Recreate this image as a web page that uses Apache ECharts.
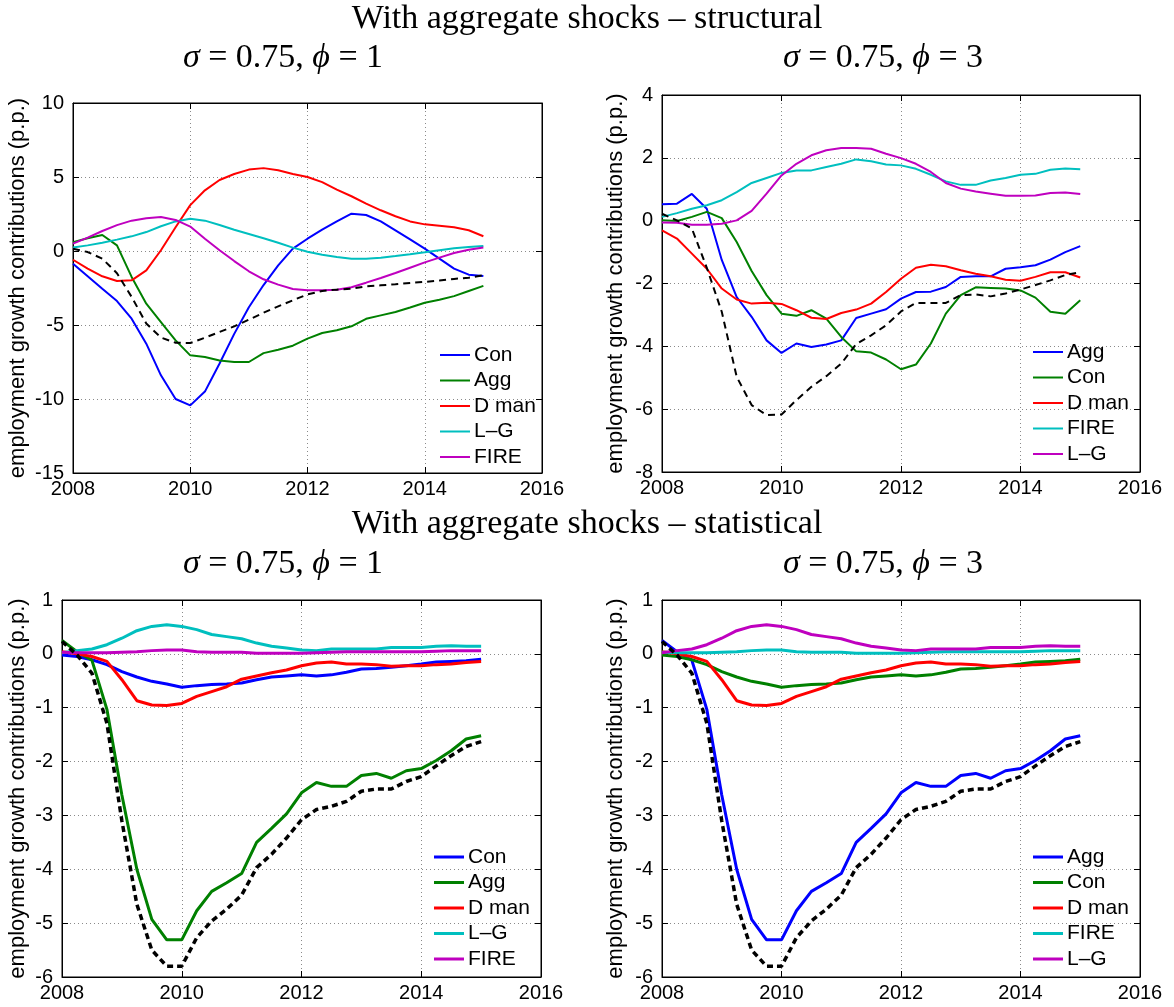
<!DOCTYPE html>
<html>
<head>
<meta charset="utf-8">
<script src="https://cdn.jsdelivr.net/npm/echarts@6/dist/echarts.min.js"></script>
<style>
  html, body { margin: 0; padding: 0; background: #fff; }
  #page { position: relative; width: 1174px; height: 1007px; overflow: hidden; }
  .layer { position: absolute; left: 0; top: 0; width: 1174px; height: 1007px; }
</style>
</head>
<body>
<div id="page">
  <div class="layer" id="structPhi1"></div>
  <div class="layer" id="structPhi3"></div>
  <div class="layer" id="statPhi1"></div>
  <div class="layer" id="statPhi3"></div>
</div>
<script>
// Quarterly observation dates
const quarters = [2008, 2008.25, 2008.5, 2008.75, 2009, 2009.25, 2009.5, 2009.75,
  2010, 2010.25, 2010.5, 2010.75, 2011, 2011.25, 2011.5, 2011.75,
  2012, 2012.25, 2012.5, 2012.75, 2013, 2013.25, 2013.5, 2013.75,
  2014, 2014.25, 2014.5, 2014.75, 2015];

const yearTicks = [2008, 2010, 2012, 2014, 2016];

// Structural decomposition, sigma = 0.75, phi = 1
const conS1 = [-0.86, -1.7, -2.55, -3.38, -4.57, -6.26, -8.4, -10.0,
  -10.43, -9.5, -7.6, -5.6, -3.8, -2.3, -0.97, 0.16,
  0.83, 1.44, 2.0, 2.52, 2.43, 2.0, 1.4, 0.79,
  0.16, -0.52, -1.19, -1.6, -1.69];
const aggS1 = [0.6, 0.86, 1.08, 0.38, -1.75, -3.56, -4.8, -6.04,
  -7.05, -7.16, -7.4, -7.5, -7.5, -6.9, -6.67, -6.4,
  -5.92, -5.54, -5.36, -5.09, -4.58, -4.35, -4.12, -3.82,
  -3.5, -3.3, -3.05, -2.7, -2.36];
const dmanS1 = [-0.59, -1.19, -1.71, -2.03, -1.98, -1.31, 0.05, 1.6,
  3.1, 4.1, 4.8, 5.2, 5.5, 5.6, 5.45, 5.2,
  5.0, 4.65, 4.15, 3.7, 3.2, 2.75, 2.35, 2.0,
  1.8, 1.7, 1.6, 1.4, 1.0];
const lgS1 = [0.23, 0.38, 0.56, 0.77, 0.99, 1.28, 1.67, 2.0,
  2.18, 2.05, 1.76, 1.44, 1.15, 0.86, 0.56, 0.23,
  -0.05, -0.25, -0.4, -0.52, -0.52, -0.45, -0.34, -0.22,
  -0.09, 0.05, 0.18, 0.27, 0.34];
const fireS1 = [0.5, 0.9, 1.35, 1.75, 2.05, 2.22, 2.3, 2.1,
  1.65, 0.83, 0.05, -0.68, -1.37, -1.91, -2.27, -2.57,
  -2.66, -2.66, -2.62, -2.45, -2.14, -1.82, -1.49, -1.13,
  -0.77, -0.45, -0.14, 0.09, 0.23];
const totalS1 = [0.15, -0.07, -0.52, -1.5, -3.1, -4.9, -5.85, -6.2,
  -6.22, -5.86, -5.47, -5.09, -4.64, -4.17, -3.74, -3.33,
  -2.93, -2.7, -2.61, -2.55, -2.39, -2.32, -2.25, -2.16,
  -2.09, -2.0, -1.89, -1.8, -1.64];

// Structural decomposition, sigma = 0.75, phi = 3
const aggS3 = [0.52, 0.54, 0.85, 0.38, -1.25, -2.43, -3.06, -3.81,
  -4.21, -3.91, -4.02, -3.94, -3.81, -3.1, -2.96, -2.82,
  -2.48, -2.27, -2.26, -2.11, -1.79, -1.77, -1.77, -1.53,
  -1.48, -1.42, -1.24, -1.0, -0.81];
const conS3 = [0.01, -0.01, 0.12, 0.28, 0.08, -0.68, -1.6, -2.37,
  -2.96, -3.03, -2.85, -3.12, -3.7, -4.16, -4.2, -4.42,
  -4.73, -4.58, -3.91, -2.96, -2.37, -2.12, -2.14, -2.16,
  -2.22, -2.45, -2.9, -2.96, -2.53];
const dmanS3 = [-0.31, -0.57, -1.05, -1.53, -2.16, -2.51, -2.64, -2.61,
  -2.65, -2.85, -3.09, -3.13, -2.94, -2.83, -2.64, -2.27,
  -1.85, -1.5, -1.4, -1.45, -1.58, -1.69, -1.77, -1.88,
  -1.91, -1.79, -1.64, -1.64, -1.81];
const fireS3 = [0.12, 0.24, 0.38, 0.49, 0.65, 0.91, 1.2, 1.36,
  1.52, 1.6, 1.6, 1.71, 1.81, 1.95, 1.89, 1.79,
  1.76, 1.65, 1.46, 1.25, 1.14, 1.14, 1.28, 1.36,
  1.46, 1.49, 1.62, 1.66, 1.64];
const lgS3 = [-0.06, -0.07, -0.13, -0.13, -0.1, 0.01, 0.31, 0.86,
  1.44, 1.81, 2.08, 2.24, 2.31, 2.31, 2.29, 2.13,
  1.99, 1.81, 1.55, 1.2, 1.02, 0.93, 0.86, 0.79,
  0.79, 0.8, 0.88, 0.9, 0.85];
const totalS3 = [0.22, 0.01, -0.25, -1.5, -2.9, -4.97, -5.87, -6.19,
  -6.17, -5.71, -5.29, -4.95, -4.55, -3.93, -3.65, -3.33,
  -2.89, -2.62, -2.62, -2.62, -2.37, -2.35, -2.41, -2.32,
  -2.19, -2.05, -1.9, -1.73, -1.64];

// Statistical decomposition
const aggStat = [0.25, 0.04, -0.12, -1.03, -2.62, -4.0, -4.93, -5.31,
  -5.31, -4.77, -4.41, -4.25, -4.08, -3.5, -3.24, -2.97,
  -2.58, -2.39, -2.46, -2.46, -2.26, -2.22, -2.31, -2.17,
  -2.13, -1.98, -1.8, -1.58, -1.52];
const conStat = [-0.02, -0.05, -0.11, -0.2, -0.33, -0.43, -0.51, -0.56,
  -0.62, -0.59, -0.57, -0.56, -0.54, -0.48, -0.43, -0.41,
  -0.39, -0.41, -0.39, -0.34, -0.28, -0.27, -0.25, -0.22,
  -0.19, -0.15, -0.14, -0.13, -0.1];
const dmanStat = [0.04, 0.0, -0.05, -0.14, -0.48, -0.87, -0.95, -0.96,
  -0.92, -0.79, -0.7, -0.61, -0.47, -0.41, -0.35, -0.3,
  -0.22, -0.17, -0.15, -0.19, -0.19, -0.2, -0.23, -0.22,
  -0.22, -0.2, -0.19, -0.16, -0.14];
const lgStat = [0.02, 0.06, 0.09, 0.17, 0.29, 0.43, 0.51, 0.54,
  0.51, 0.45, 0.36, 0.32, 0.28, 0.2, 0.14, 0.11,
  0.07, 0.06, 0.09, 0.09, 0.09, 0.09, 0.12, 0.12,
  0.12, 0.14, 0.15, 0.14, 0.14];
const fireStat = [0.03, 0.02, 0.02, 0.02, 0.03, 0.04, 0.06, 0.07,
  0.07, 0.04, 0.03, 0.03, 0.03, 0.01, 0.01, 0.01,
  0.01, 0.02, 0.03, 0.04, 0.04, 0.04, 0.04, 0.04,
  0.04, 0.05, 0.06, 0.06, 0.06];
const totalStat = [0.23, -0.02, -0.36, -1.29, -3.1, -4.65, -5.5, -5.8,
  -5.8, -5.27, -4.96, -4.74, -4.48, -3.97, -3.72, -3.42,
  -3.08, -2.89, -2.83, -2.74, -2.55, -2.51, -2.51, -2.37,
  -2.28, -2.08, -1.89, -1.72, -1.63];

const BLUE = '#0000ff', GREEN = '#008000', RED = '#ff0000', CYAN = '#00bfbf', MAGENTA = '#bf00bf';
const SANS = '"Liberation Sans", Arial, sans-serif';
const SERIF = '"Liberation Serif", "DejaVu Serif", serif';
const YNAME = 'employment growth contributions (p.p.)';

function pairs(values) {
  return quarters.map((q, i) => [q, values[i]]);
}

function titleText(text, x, y) {
  return {
    type: 'text', x: x, y: y, silent: true,
    style: {
      text: text, fill: '#000', fontSize: 34, fontFamily: SERIF,
      align: 'center', verticalAlign: 'middle',
      rich: { i: { fontStyle: 'italic', fontSize: 34, fontFamily: SERIF, fill: '#000' } }
    }
  };
}

function panel(id, cfg) {
  const chart = echarts.init(document.getElementById(id), null, { renderer: 'canvas' });
  const tick = { show: true, inside: true, length: 6, lineStyle: { color: '#000', width: 1 } };
  const line = { show: true, onZero: false, lineStyle: { color: '#000', width: 1 } };
  const grid = { left: cfg.rect[0], top: cfg.rect[1], width: cfg.rect[2], height: cfg.rect[3],
    show: true, borderColor: '#000', borderWidth: 1, backgroundColor: 'transparent',
    containLabel: false, outerBoundsMode: 'none' };
  const split = { show: true, lineStyle: { color: '#8a8a8a', width: 1, type: [1, 3] } };

  const xBase = { type: 'value', min: yearTicks[0], max: yearTicks[yearTicks.length - 1], interval: 2,
    axisLine: line, axisTick: tick };
  const yBase = { type: 'value', min: cfg.y[0], max: cfg.y[1], interval: cfg.y[2],
    axisLine: line, axisTick: tick };

  const series = cfg.lines.map(l => ({
    name: l.name, type: 'line', xAxisIndex: 0, yAxisIndex: 0,
    data: pairs(l.values), symbol: 'none', showSymbol: false,
    lineStyle: { color: l.color, width: cfg.lw },
    itemStyle: { color: l.color },
    emphasis: { disabled: true }, z: 3
  }));
  series.push({
    name: 'total', type: 'line', xAxisIndex: 0, yAxisIndex: 0,
    data: pairs(cfg.total), symbol: 'none', showSymbol: false,
    lineStyle: { color: '#000', width: cfg.dw, type: cfg.dash },
    itemStyle: { color: '#000' },
    emphasis: { disabled: true }, z: 4
  });

  chart.setOption({
    animation: false,
    backgroundColor: 'transparent',
    graphic: cfg.titles,
    grid: grid,
    legend: {
      show: true, orient: 'vertical', left: cfg.legend[0], top: cfg.legend[1], padding: 0,
      icon: 'rect', itemWidth: 30, itemHeight: cfg.lw, itemGap: 4.5,
      data: cfg.order,
      selectedMode: false,
      textStyle: { fontFamily: SANS, fontSize: 21, lineHeight: 21, color: '#000', padding: [0, 0, 0, -1] }
    },
    xAxis: [
      Object.assign({}, xBase, { position: 'bottom',
        axisLabel: { show: true, fontFamily: SANS, fontSize: 20, color: '#000', margin: 6,
          showMinLabel: true, showMaxLabel: true, formatter: v => String(v) },
        splitLine: split }),
      Object.assign({}, xBase, { position: 'top', axisLabel: { show: false }, splitLine: { show: false } })
    ],
    yAxis: [
      Object.assign({}, yBase, { position: 'left',
        name: YNAME, nameLocation: 'middle', nameGap: cfg.nameGap,
        nameTextStyle: { fontFamily: SANS, fontSize: 22, color: '#000' },
        axisLabel: { show: true, fontFamily: SANS, fontSize: 20, color: '#000', margin: 9,
          showMinLabel: true, showMaxLabel: true, formatter: v => String(v) },
        splitLine: split }),
      Object.assign({}, yBase, { position: 'right', axisLabel: { show: false }, splitLine: { show: false } })
    ],
    series: series
  });
}

// Top row: structural
panel('structPhi1', {
  rect: [73, 103, 469, 370], y: [-15, 10, 5], nameGap: 44, lw: 2, dw: 2, dash: [7, 5],
  legend: [440, 344.5],
  order: ['Con', 'Agg', 'D man', 'L\u2013G', 'FIRE'],
  lines: [
    { name: 'Con', values: conS1, color: BLUE },
    { name: 'Agg', values: aggS1, color: GREEN },
    { name: 'D man', values: dmanS1, color: RED },
    { name: 'L\u2013G', values: lgS1, color: CYAN },
    { name: 'FIRE', values: fireS1, color: MAGENTA }
  ],
  total: totalS1,
  titles: [
    titleText('With aggregate shocks \u2013 structural', 587, 19),
    titleText('{i|\u03c3} = 0.75, {i|\u03d5} = 1', 283, 58)
  ]
});

panel('structPhi3', {
  rect: [662, 95, 478, 377], y: [-8, 4, 2], nameGap: 35, lw: 2, dw: 2, dash: [7, 5],
  legend: [1033, 341.5],
  order: ['Agg', 'Con', 'D man', 'FIRE', 'L\u2013G'],
  lines: [
    { name: 'Agg', values: aggS3, color: BLUE },
    { name: 'Con', values: conS3, color: GREEN },
    { name: 'D man', values: dmanS3, color: RED },
    { name: 'FIRE', values: fireS3, color: CYAN },
    { name: 'L\u2013G', values: lgS3, color: MAGENTA }
  ],
  total: totalS3,
  titles: [
    titleText('{i|\u03c3} = 0.75, {i|\u03d5} = 3', 883, 58)
  ]
});

// Bottom row: statistical
panel('statPhi1', {
  rect: [62, 600, 479, 377], y: [-6, 1, 1], nameGap: 33, lw: 3, dw: 3.5, dash: [6, 4],
  legend: [434, 846.5],
  order: ['Con', 'Agg', 'D man', 'L\u2013G', 'FIRE'],
  lines: [
    { name: 'Con', values: conStat, color: BLUE },
    { name: 'Agg', values: aggStat, color: GREEN },
    { name: 'D man', values: dmanStat, color: RED },
    { name: 'L\u2013G', values: lgStat, color: CYAN },
    { name: 'FIRE', values: fireStat, color: MAGENTA }
  ],
  total: totalStat,
  titles: [
    titleText('With aggregate shocks \u2013 statistical', 587, 524),
    titleText('{i|\u03c3} = 0.75, {i|\u03d5} = 1', 283, 564)
  ]
});

panel('statPhi3', {
  rect: [662, 600, 478, 377], y: [-6, 1, 1], nameGap: 35, lw: 3, dw: 3.5, dash: [6, 4],
  legend: [1033, 846.5],
  order: ['Agg', 'Con', 'D man', 'FIRE', 'L\u2013G'],
  lines: [
    { name: 'Agg', values: aggStat, color: BLUE },
    { name: 'Con', values: conStat, color: GREEN },
    { name: 'D man', values: dmanStat, color: RED },
    { name: 'FIRE', values: fireStat, color: CYAN },
    { name: 'L\u2013G', values: lgStat, color: MAGENTA }
  ],
  total: totalStat,
  titles: [
    titleText('{i|\u03c3} = 0.75, {i|\u03d5} = 3', 883, 564)
  ]
});
</script>
</body>
</html>
